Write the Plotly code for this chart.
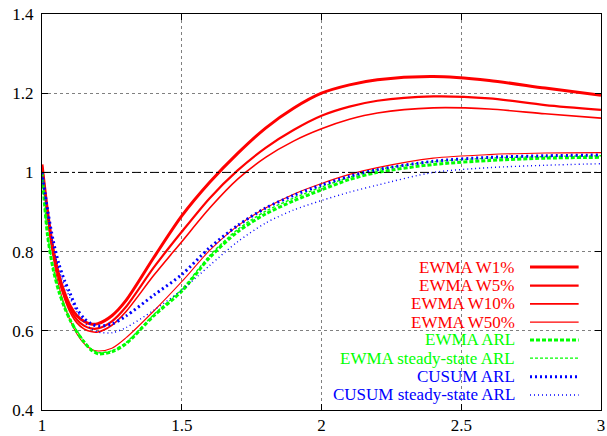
import plotly.graph_objects as go

# shift ratio on the x axis (common sample points for every curve)
shift = [1.0, 1.02, 1.04, 1.06, 1.08, 1.1, 1.125, 1.15, 1.175, 1.2, 1.25, 1.3,
         1.4, 1.5, 1.6, 1.7, 1.8, 1.9, 2.0, 2.1, 2.2, 2.4, 2.6, 2.8, 3.0]

ewma_w1 = [1.02, 0.90, 0.805, 0.742, 0.697, 0.664, 0.638, 0.624, 0.617, 0.618, 0.638, 0.676,
           0.785, 0.89, 0.975, 1.048, 1.112, 1.162, 1.2, 1.221, 1.234, 1.242, 1.232, 1.213, 1.195]
ewma_w5 = [1.015, 0.895, 0.80, 0.735, 0.688, 0.655, 0.628, 0.613, 0.606, 0.606, 0.624, 0.66,
           0.76, 0.85, 0.935, 1.005, 1.062, 1.107, 1.143, 1.166, 1.181, 1.192, 1.187, 1.17, 1.158]
ewma_w10 = [1.01, 0.89, 0.795, 0.73, 0.683, 0.648, 0.62, 0.605, 0.598, 0.597, 0.614, 0.648,
            0.74, 0.825, 0.91, 0.983, 1.038, 1.079, 1.11, 1.134, 1.15, 1.163, 1.16, 1.148, 1.137]
ewma_w50 = [1.01, 0.885, 0.785, 0.715, 0.665, 0.627, 0.592, 0.568, 0.554, 0.549, 0.556, 0.582,
            0.65, 0.724, 0.803, 0.865, 0.91, 0.945, 0.972, 0.995, 1.012, 1.036, 1.045, 1.049, 1.05]
ewma_arl = [1.0, 0.84, 0.755, 0.70, 0.66, 0.628, 0.597, 0.572, 0.552, 0.542, 0.547, 0.567,
            0.638, 0.70, 0.785, 0.85, 0.895, 0.928, 0.956, 0.982, 1.0, 1.02, 1.03, 1.036, 1.038]
ewma_ss_arl = [1.0, 0.845, 0.76, 0.705, 0.664, 0.632, 0.60, 0.575, 0.555, 0.545, 0.55, 0.57,
               0.641, 0.705, 0.79, 0.856, 0.902, 0.935, 0.963, 0.988, 1.007, 1.027, 1.036, 1.04, 1.042]
cusum_arl = [1.0, 0.905, 0.828, 0.77, 0.728, 0.695, 0.655, 0.632, 0.618, 0.612, 0.617, 0.637,
             0.69, 0.742, 0.81, 0.866, 0.91, 0.942, 0.968, 0.99, 1.007, 1.028, 1.038, 1.042, 1.044]
cusum_ss_arl = [1.0, 0.90, 0.815, 0.755, 0.715, 0.683, 0.648, 0.623, 0.606, 0.597, 0.595, 0.608,
                0.652, 0.703, 0.765, 0.825, 0.872, 0.905, 0.929, 0.95, 0.968, 1.0, 1.012, 1.018, 1.022]

names = ["EWMA W1%", "EWMA W5%", "EWMA W10%", "EWMA W50%",
         "EWMA ARL", "EWMA steady-state ARL", "CUSUM ARL", "CUSUM steady-state ARL"]
series = [ewma_w1, ewma_w5, ewma_w10, ewma_w50, ewma_arl, ewma_ss_arl, cusum_arl, cusum_ss_arl]

x_ticks = [1, 1.5, 2, 2.5, 3]
x_tick_text = ["1", "1.5", "2", "2.5", "3"]
y_ticks = [0.4, 0.6, 0.8, 1.0, 1.2, 1.4]
y_tick_text = ["0.4", "0.6", "0.8", "1", "1.2", "1.4"]

# styles
colors = ["#ff0000"] * 4 + ["#00ff00"] * 2 + ["#0000ff"] * 2
widths = [3, 2.2, 1.6, 1.1, 3, 1.4, 3, 1.4]
dashes = ["solid", "solid", "solid", "solid", "4px,2px", "3px,2px", "2px,3px", "1px,3px"]

FONT = "Liberation Serif, Times New Roman, serif"

fig = go.Figure()
for name, ys, c, w, d in zip(names, series, colors, widths, dashes):
    fig.add_trace(go.Scatter(
        x=shift, y=ys, name=name, mode="lines",
        line=dict(color=c, width=w, dash=d, shape="spline", smoothing=0.8),
        showlegend=False,
    ))

# reference line at 1
fig.add_hline(y=1, line=dict(color="black", width=1, dash="dashdot"))

# gnuplot-style key: right-aligned text with line sample on the right
fig.add_shape(type="rect", xref="paper", yref="paper", x0=0.524, x1=0.98, y0=0.018, y1=0.384,
              fillcolor="white", line=dict(width=0), layer="between")
row_y = [0.361, 0.314, 0.268, 0.222, 0.177, 0.131, 0.084, 0.038]
for name, c, w, d, yy in zip(names, colors, widths, dashes, row_y):
    fig.add_annotation(x=0.850, y=yy, xref="paper", yref="paper", text=name, showarrow=False,
                       xanchor="right", yanchor="middle", font=dict(color=c, size=17, family=FONT))
    fig.add_shape(type="line", xref="paper", yref="paper", x0=0.873, x1=0.960, y0=yy, y1=yy,
                  line=dict(color=c, width=w, dash=d), layer="above")

axis_style = dict(
    showgrid=True, gridcolor="#808080", griddash="dot", gridwidth=1,
    showline=True, linecolor="black", linewidth=1, mirror="ticks",
    ticks="inside", ticklen=6, tickcolor="black", zeroline=False,
    tickfont=dict(size=17, family=FONT, color="black"),
    automargin=False, ticklabeloverflow="allow",
)
fig.update_xaxes(range=[1, 3], tickvals=x_ticks, ticktext=x_tick_text, **axis_style)
fig.update_yaxes(range=[0.4, 1.4], tickvals=y_ticks, ticktext=y_tick_text,
                 ticklabelstandoff=4, **axis_style)
fig.update_layout(
    width=607, height=436,
    margin=dict(l=42, r=6, t=14, b=26),
    plot_bgcolor="white", paper_bgcolor="white",
    font=dict(family=FONT),
)

# drop the default 8px page margin so the figure fills the window exactly
fig.write_html("out.html", config={"displayModeBar": False},
               post_script="document.body.style.margin = '0px';")
